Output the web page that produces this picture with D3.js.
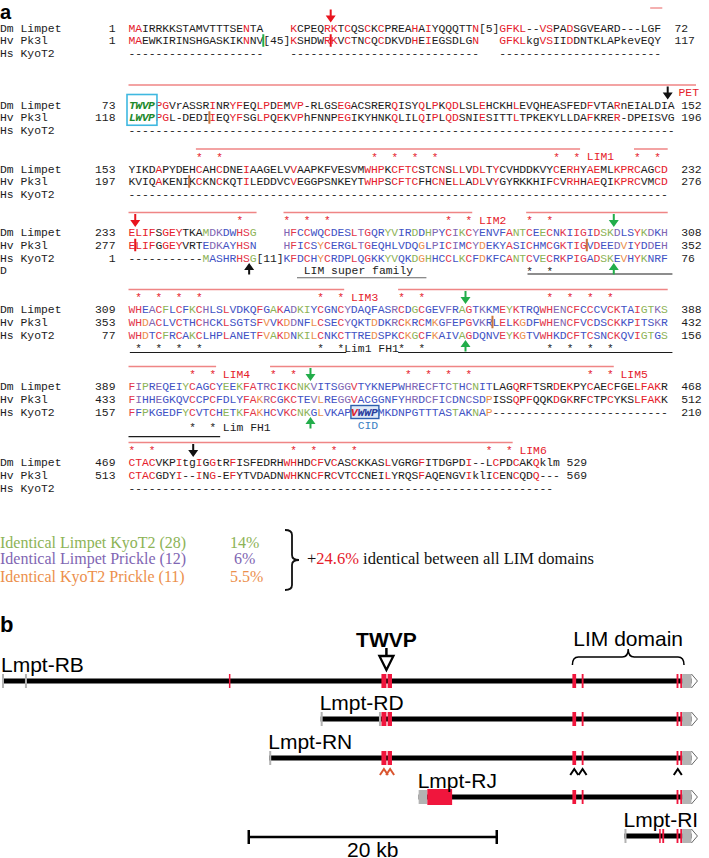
<!DOCTYPE html>
<html>
<head>
<meta charset="utf-8">
<script src="https://cdn.jsdelivr.net/npm/d3@7"></script>
<style>
  html, body { margin: 0; padding: 0; background: #fff; }
  svg { display: block; }
</style>
</head>
<body>
<script>
// Figura: (a) alineamiento Limpet / Pk3l / KyoT2, (b) transcritos Lmpt y sus exones.

const MONO = '"Liberation Mono", "Courier New", monospace';
const SANS = '"Liberation Sans", Arial, sans-serif';
const SERIF = '"Liberation Serif", "Times New Roman", serif';

// ---------- datos (a) ----------
const seqNames = ['Dm Limpet', 'Hv Pk3l', 'Hs KyoT2'];
const G10 = '----------';

const dmRows = [
  'MAIRRKKSTAMVTTTSENTA    KCPEQRKTCQSCKCPREAHAIYQQQTTN[5]GFKL--VSPADSGVEARD---LGF',
  'TWVPPGVrASSRINRYFEQLPDEMVP-RLGSEGACSRERQISYQLPKQDLSLEHCKHLEVQHEASFEDFVTARnEIALDIA',
  'YIKDAPYDEHCAHCDNEIAAGELVVAAPKFVESVMWHPKCFTCSTCNSLLVDLTYCVHDDKVYCERHYAEMLKPRCAGCD',
  'ELIFSGEYTKAMDKDWHSG    HFCCWQCDESLTGQRYVIRDDHPYCIKCYENVFANTCEECNKIIGIDSKDLSYKDKH',
  'WHEACFLCFKCHLSLVDKQFGAKADKIYCGNCYDAQFASRCDGCGEVFRAGTKKMEYKTRQWHENCFCCCVCKTAIGTKS',
  'FIPREQEIYCAGCYEEKFATRCIKCNKVITSGGVTYKNEPWHRECFTCTHCNITLAGQRFTSRDEKPYCAECFGELFAKR',
  'CTACVKPItgIGGtRFISFEDRHWHHDCFVCASCKKASLVGRGFITDGPDI--LCPDCAKQklm'
];
const hvRows = [
  'MAEWKIRINSHGASKIKNNV[45]KSHDWRKVCTNCQCDKVDHEIEGSDLGN   GFKLkgVSIIDDNTKLAPkevEQY',
  'LWVPPGL-DEDIIEQYFSGLPQEKVPhFNNPEGIKYHNKQLILQIPLQDSNIESITTLTPKEKYLLDAFKRER-DPEISVG',
  'KVIQAKENIKCKNCKQTILEDDVCVEGGPSNKEYTWHPSCFTCFHCNELLADLVYGYRKKHIFCVRHHAEQIKPRCVMCD',
  'ELIFGGEYVRTEDKAYHSN    HFICSYCERGLTGEQHLVDQGLPICIMCYDEKYASICHMCGKTIGVDEEDVIYDDEH',
  'WHDACLVCTHCHCKLSGTSFVVKDDNFLCSECYQKTDDKRCKRCMKGFEPGVKRLELKGDFWHENCFVCDSCKKPITSKR',
  'FIHHEGKQVCCPCFDLYFAKRCGKCTEVLREGGVACGGNFYHRDCFICDNCSDPISSQPFQQKDGKRFCTPCYKSLFAKK',
  'CTACGDYI--ING-EFYTVDADNWHKNCFRCVTCCNEILYRQSFAQENGVIklICENCQDQ---'
];
const hsRows = [
  G10 + G10 + '    ' + G10 + G10 + '--------' + '   ' + G10 + G10 + '----',
  G10 + G10 + G10 + G10 + G10 + G10 + G10 + G10 + '-',
  G10 + G10 + G10 + G10 + G10 + G10 + G10 + G10,
  '-----------MASHRHSG[11]KFDCHYCRDPLQGKKYVQKDGHHCCLKCFDKFCANTCVECRKPIGADSKEVHYKNRF',
  'WHDTCFRCAKCLHPLANETFVAKDNKILCNKCTTREDSPKCKGCFKAIVAGDQNVEYKGTVWHKDCFTCSNCKQVIGTGS',
  'FFPKGEDFYCVTCHETKFAKHCVKCNKGLVKAPVWWPMKDNPGTTTASTAKNAP' + G10 + G10 + '------',
  G10 + G10 + G10 + G10 + G10 + G10 + '---'
];
const dmStart = [1, 73, 153, 233, 309, 389, 469];
const dmEnd   = [72, 152, 232, 308, 388, 468, 529];
const hvStart = [1, 118, 197, 277, 353, 433, 513];
const hvEnd   = [117, 196, 276, 352, 432, 512, 569];
const hsStart = [null, null, null, 1, 77, 157, null];
const hsEnd   = [null, null, null, 76, 156, 210, null];

// lineas de dominio (rojo) [bloque, col inicio, col fin]
const domainLines = [
  [0, 77.4, 79.2], [1, 0, 84.2],
  [2, 10, 67], [2, 75, 80],
  [3, 0, 19], [3, 23, 51], [3, 59, 80],
  [4, 0, 32], [4, 40, 80],
  [5, 0, 13], [5, 21, 72],
  [6, 0, 57]
];
// cisteinas/histidinas conservadas (estrellas rojas)
const limStars = [
  [], [],
  [10, 13, 36, 39, 42, 45, 63, 66, 75, 78],
  [16, 23, 26, 29, 47, 50, 59, 62],
  [1, 4, 7, 10, 28, 31, 40, 43, 62, 65, 68, 71],
  [9, 12, 21, 24, 41, 44, 47, 50, 68, 71],
  [0, 3, 24, 27, 30, 33, 53, 56]
];
const limLabels = [[2, 68, 'LIM1'], [3, 52, 'LIM2'], [4, 33, 'LIM3'], [5, 14, 'LIM4'], [5, 73, 'LIM5'], [6, 58, 'LIM6'], [1, 81.6, 'PET']];

// anotacion KyoT2 (negro)
const kyoStars = [[3, [59, 62]], [4, [1, 4, 7, 10, 28, 31, 40, 43, 62, 65, 68, 71]], [5, [9, 12]]];
const kyoLines = [[3, 59.2, 80.7], [4, 0.2, 32.3], [4, 40, 80.7], [5, 0, 13.6]];
const kyoTexts = [[4, 32, 'Lim1 FH1'], [5, 14, 'Lim FH1']];

// intrones: flechas y barras [bloque, col, color]
const downArrows = [[0, 30, 'red'], [3, 1, 'red'], [3, 72, 'green'], [4, 50, 'green'], [5, 27, 'green'], [1, 80, 'black'], [6, 9.6, 'black']];
const upArrows = [[3, 72, 'green'], [4, 50, 'green'], [5, 27, 'green'], [3, 17.9, 'black']];
const hvBars = [[0, 20, 'green'], [0, 30, 'red'], [1, 12, 'orange'], [2, 9, 'orange'], [3, 1, 'red'], [3, 68, 'orange'], [4, 54, 'orange']];

// leyenda
const legendLabels = ['Identical Limpet KyoT2 (28)', 'Identical Limpet Prickle (12)', 'Identical KyoT2 Prickle (11)'];
const legendPct = ['14%', '6%', '5.5%'];
const legendTotal = '24.6%';

// ---------- datos (b) ----------  posiciones en kb
const geneNames = ['Lmpt-RB', 'Lmpt-RD', 'Lmpt-RN', 'Lmpt-RJ', 'Lmpt-RI'];
const geneStart = [0, 25.7, 21.55, 33.6, 50.2];
const geneEnd = 55.6;
const grayExons = [
  [[0, 0.12], [1.85, 2.0]],
  [[25.7, 25.8], [30.4, 30.5]],
  [[21.55, 21.65]],
  [[33.6, 34.3]],
  [[50.2, 50.3]]
];
const limExons = [[46.0, 46.3], [46.75, 46.9], [54.4, 54.55], [54.7, 54.85]];
const twvpExons = [[30.6, 31.0], [31.1, 31.45]];
const redExons = [
  [[18.3, 18.4]].concat(twvpExons, limExons),
  twvpExons.concat(limExons),
  twvpExons.concat(limExons),
  [[34.3, 36.3]].concat(limExons),
  [[53.0, 53.12], [53.25, 53.4], [54.4, 54.55], [54.7, 54.85]]
];
const utrEnd = [54.85, 55.6];
const rnRedChevrons = [30.8, 31.3];
const rnBlackChevrons = [46.15, 46.82, 54.5];
const twvpKb = 31.0;
const limBraceKb = [46.0, 55.0];
const scaleBarKb = [19.9, 39.9];

// ---------- dibujo ----------
const RED = '#e5202b', RED_LIM = '#e3364a', BLUE = '#4152c4', GREEN = '#8db356',
      PURPLE = '#7f66b3', ORANGE = '#ec8f4c', INK = '#1c1c1c', LINE_RED = '#ef8585',
      ARROW_GREEN = '#22ad4a';
const colorOf = { red: '#e8141e', green: ARROW_GREEN, black: '#111', orange: '#c9763c' };

const svg = d3.select('body').append('svg').attr('width', 709).attr('height', 858);

const cw = 6.74, x0 = 128.5;
const col = d3.scaleLinear().domain([0, 1]).range([x0, x0 + cw]);
const blockY = [31.5, 108.5, 172.5, 236, 313, 390, 466]; // baseline fila Dm
const rowGap = 12.75;

svg.append('text').attr('x', 0).attr('y', 18.5).attr('font-family', SANS)
  .attr('font-weight', 700).attr('font-size', 20).attr('fill', '#000').text('a');

const isRes = ch => /[A-Za-z]/.test(ch);

function colourBlock(b) {
  const rows = [dmRows[b], hvRows[b], hsRows[b]];
  const n = d3.max(rows, r => r.length);
  const out = rows.map(() => []);
  for (let i = 0; i < n; i++) {
    const [a, h, k] = rows.map(r => r[i] || ' ');
    let c = [INK, INK, INK];
    if (isRes(a) && isRes(h) && isRes(k)) {
      c = [BLUE, BLUE, BLUE];
      if (a === h && h === k) c = [RED_LIM, RED_LIM, RED_LIM];
      else if (a === k) c = [GREEN, BLUE, GREEN];
      else if (a === h) c = [PURPLE, PURPLE, BLUE];
      else if (h === k) c = [BLUE, ORANGE, ORANGE];
    } else if (isRes(a) && isRes(h) && a === h && a === a.toUpperCase()) {
      c = [RED, RED, INK];
    }
    rows.forEach((r, j) => out[j].push(c[j]));
  }
  return out;
}

const endCol = [81, 82, 82, 82, 82, 82, 65];

dmRows.forEach((_, b) => {
  const g = svg.append('g');
  const cols = colourBlock(b);
  const rows = [dmRows[b], hvRows[b], hsRows[b]];
  const starts = [dmStart[b], hvStart[b], hsStart[b]];
  const ends = [dmEnd[b], hvEnd[b], hsEnd[b]];

  rows.forEach((seq, r) => {
    const y = blockY[b] + r * rowGap;
    g.append('text').attr('x', 0).attr('y', y).attr('font-family', MONO)
      .attr('font-size', 11.4).attr('fill', INK).attr('xml:space', 'preserve').text(seqNames[r]);
    if (starts[r] != null) {
      g.append('text').attr('x', 115.5).attr('y', y).attr('text-anchor', 'end')
        .attr('font-family', MONO).attr('font-size', 11.4).attr('fill', INK).text(starts[r]);
      g.append('text').attr('x', col(endCol[b])).attr('y', y)
        .attr('font-family', MONO).attr('font-size', 11.4).attr('fill', INK).text(ends[r]);
    }
    const chars = seq.split('').map((ch, i) => ({ ch, i, c: cols[r][i] }))
      .filter(d => d.ch !== ' ');
    g.selectAll(null).data(chars).join('text')
      .attr('x', d => col(d.i + 0.5)).attr('y', y)
      .attr('text-anchor', 'middle').attr('font-family', MONO).attr('font-size', 11.4)
      .attr('fill', d => d.c).text(d => d.ch);
  });
});

// fila "D" con "LIM super family"
svg.append('text').attr('x', 0).attr('y', blockY[3] + 3 * rowGap).attr('font-family', MONO)
  .attr('font-size', 11.4).attr('fill', INK).text('D');
svg.append('text').attr('x', col(26)).attr('y', blockY[3] + 3 * rowGap).attr('font-family', MONO)
  .attr('font-size', 11.4).attr('fill', INK).text('LIM super family');
svg.append('line').attr('x1', col(25)).attr('x2', col(44.2))
  .attr('y1', blockY[3] + 3 * rowGap + 3.5).attr('y2', blockY[3] + 3 * rowGap + 3.5)
  .attr('stroke', '#666').attr('stroke-width', 1.2);

// lineas de dominio, estrellas y etiquetas LIM
svg.selectAll('.dline').data(domainLines).join('line').attr('class', 'dline')
  .attr('x1', d => col(d[1])).attr('x2', d => col(d[2]))
  .attr('y1', d => blockY[d[0]] - 23.5).attr('y2', d => blockY[d[0]] - 23.5)
  .attr('stroke', LINE_RED).attr('stroke-width', 1.3);

limStars.forEach((cs, b) => {
  svg.selectAll(null).data(cs).join('text')
    .attr('x', c => col(c + 0.5)).attr('y', blockY[b] - 12)
    .attr('text-anchor', 'middle').attr('font-family', MONO).attr('font-size', 11)
    .attr('fill', RED).text('*');
});
svg.selectAll('.limlab').data(limLabels).join('text').attr('class', 'limlab')
  .attr('x', d => col(d[1])).attr('y', d => blockY[d[0]] - 12.5)
  .attr('font-family', MONO).attr('font-size', 11.4).attr('fill', RED).text(d => d[2]);

// anotacion KyoT2
const kyoY = { 3: [38.5, 38], 4: [38.5, 39.5], 5: [41, 46.7] };
kyoStars.forEach(([b, cs]) => {
  svg.selectAll(null).data(cs).join('text')
    .attr('x', c => col(c + 0.5)).attr('y', blockY[b] + kyoY[b][0])
    .attr('text-anchor', 'middle').attr('font-family', MONO).attr('font-size', 11)
    .attr('fill', INK).text('*');
});
svg.selectAll('.kline').data(kyoLines).join('line').attr('class', 'kline')
  .attr('x1', d => col(d[1])).attr('x2', d => col(d[2]))
  .attr('y1', d => blockY[d[0]] + kyoY[d[0]][1]).attr('y2', d => blockY[d[0]] + kyoY[d[0]][1])
  .attr('stroke', INK).attr('stroke-width', 1.2);
svg.selectAll('.ktext').data(kyoTexts).join('text').attr('class', 'ktext')
  .attr('x', d => col(d[1])).attr('y', d => blockY[d[0]] + kyoY[d[0]][0])
  .attr('font-family', MONO).attr('font-size', 11.4).attr('fill', INK).attr('xml:space', 'preserve')
  .text(d => d[2]);

// flechas de intron
function arrowPath(x, yBase, yTip) {
  const dir = yTip > yBase ? 1 : -1;
  const head = 7, hw = 5, yNeck = yTip - dir * head;
  return `M${x - 1},${yBase}L${x + 1},${yBase}L${x + 1},${yNeck}L${x + hw},${yNeck}` +
         `L${x},${yTip}L${x - hw},${yNeck}L${x - 1},${yNeck}Z`;
}
svg.selectAll('.darr').data(downArrows).join('path').attr('class', 'darr')
  .attr('d', d => arrowPath(col(d[1]), blockY[d[0]] - 22, blockY[d[0]] - 9))
  .attr('fill', d => colorOf[d[2]]);
svg.selectAll('.uarr').data(upArrows).join('path').attr('class', 'uarr')
  .attr('d', d => arrowPath(col(d[1]), blockY[d[0]] + 2 * rowGap + 13, blockY[d[0]] + 2 * rowGap + 1.5))
  .attr('fill', d => colorOf[d[2]]);
svg.selectAll('.hvbar').data(hvBars).join('rect').attr('class', 'hvbar')
  .attr('x', d => col(d[1]) - 1).attr('width', 2)
  .attr('y', d => blockY[d[0]] + rowGap - 10).attr('height', 12.5)
  .attr('fill', d => colorOf[d[2]]);

// TWVP (recuadro cian) y VWWP (CID)
svg.append('rect').attr('x', col(0) - 1.5).attr('y', blockY[1] - 14).attr('width', 4 * cw + 3)
  .attr('height', rowGap + 18).attr('fill', 'none').attr('stroke', '#3fb8e0').attr('stroke-width', 1.6);
[[dmRows[1], 0], [hvRows[1], 1]].forEach(([s, r]) => {
  svg.append('text').attr('x', col(2)).attr('y', blockY[1] + r * rowGap).attr('text-anchor', 'middle')
    .attr('font-family', MONO).attr('font-size', 11.4).attr('font-weight', 700).attr('font-style', 'italic')
    .attr('fill', '#1d8a2c').attr('textLength', 4 * cw - 1).text(s.slice(0, 4));
});
// tapar letras normales bajo TWVP/LWVP
svg.selectAll('text').filter(function () {
  const x = +this.getAttribute('x'), y = +this.getAttribute('y');
  return this.getAttribute('text-anchor') === 'middle' && !this.getAttribute('font-weight') &&
    x < col(4) && x > col(0) && (y === blockY[1] || y === blockY[1] + rowGap);
}).remove();

const vy = blockY[5] + 2 * rowGap;
svg.append('rect').attr('x', col(33)).attr('y', vy - 10).attr('width', 4 * cw + 1)
  .attr('height', 13).attr('fill', '#dfe9f6').attr('stroke', '#2d5fae').attr('stroke-width', 1.4);
svg.selectAll('text').filter(function () {
  const x = +this.getAttribute('x'), y = +this.getAttribute('y');
  return this.getAttribute('text-anchor') === 'middle' && x > col(33) && x < col(37) && y === vy;
}).remove();
['V', 'W', 'W', 'P'].forEach((ch, i) => {
  svg.append('text').attr('x', col(33 + i + 0.5)).attr('y', vy).attr('text-anchor', 'middle')
    .attr('font-family', MONO).attr('font-size', 11.4).attr('font-weight', 700).attr('font-style', 'italic')
    .attr('fill', i === 0 ? '#e0202a' : '#2b3f9e').text(ch);
});
svg.append('text').attr('x', col(34)).attr('y', blockY[5] + 39).attr('font-family', MONO)
  .attr('font-size', 11.4).attr('fill', '#3a7fc4').text('CID');

// ---------- leyenda ----------
const legendColors = [GREEN, PURPLE, ORANGE];
const legY = [547.5, 564, 581.5];
legendLabels.forEach((t, i) => {
  svg.append('text').attr('x', 0).attr('y', legY[i]).attr('font-family', SERIF)
    .attr('font-size', 16).attr('fill', legendColors[i]).text(t);
  svg.append('text').attr('x', i === 1 ? 234 : 230).attr('y', legY[i]).attr('font-family', SERIF)
    .attr('font-size', 16).attr('fill', legendColors[i]).text(legendPct[i]);
});
function vBrace(x, y0, y1, w) {
  const ym = (y0 + y1) / 2, xm = x + w / 2, r = 5;
  return `M${x},${y0}Q${xm},${y0} ${xm},${y0 + r}L${xm},${ym - r}Q${xm},${ym} ${x + w},${ym}` +
         `Q${xm},${ym} ${xm},${ym + r}L${xm},${y1 - r}Q${xm},${y1} ${x},${y1}`;
}
svg.append('path').attr('d', vBrace(285, 530, 590, 14)).attr('fill', 'none')
  .attr('stroke', '#111').attr('stroke-width', 1.8);
const tot = svg.append('text').attr('x', 307).attr('y', legY[1]).attr('font-family', SERIF)
  .attr('font-size', 16.5).attr('fill', '#111');
tot.append('tspan').text('+');
tot.append('tspan').attr('fill', RED).text(legendTotal);
tot.append('tspan').text(' identical between all LIM domains');

// ---------- (b) transcritos ----------
svg.append('text').attr('x', 0).attr('y', 632).attr('font-family', SANS)
  .attr('font-weight', 700).attr('font-size', 22).attr('fill', '#000').text('b');

const kb = d3.scaleLinear().domain([0, 56]).range([2, 2 + 56 * 12.4]);
const geneY = [681, 719, 758, 797, 836];
const gb = svg.append('g');

geneNames.forEach((name, i) => {
  const y = geneY[i];
  gb.append('line').attr('x1', kb(geneStart[i])).attr('x2', kb(geneEnd))
    .attr('y1', y).attr('y2', y).attr('stroke', '#000').attr('stroke-width', 5);
  gb.selectAll(null).data(grayExons[i]).join('rect')
    .attr('x', d => kb(d[0])).attr('width', d => Math.max(2, kb(d[1]) - kb(d[0])))
    .attr('y', y - 7).attr('height', 14).attr('fill', '#b3b3b3');
  gb.selectAll(null).data(redExons[i]).join('rect')
    .attr('x', d => kb(d[0])).attr('width', d => Math.max(1.5, kb(d[1]) - kb(d[0])))
    .attr('y', d => (d[1] - d[0] > 1 ? y - 8 : y - 7)).attr('height', d => (d[1] - d[0] > 1 ? 16 : 14))
    .attr('fill', '#f0163d');
  // UTR final gris + punta
  gb.append('rect').attr('x', kb(utrEnd[0])).attr('width', kb(utrEnd[1]) - kb(utrEnd[0]))
    .attr('y', y - 7).attr('height', 14).attr('fill', '#b3b3b3');
  gb.append('path')
    .attr('d', `M${kb(utrEnd[1])},${y - 7}L${kb(utrEnd[1]) + 6},${y}L${kb(utrEnd[1])},${y + 7}`)
    .attr('fill', 'none').attr('stroke', '#555').attr('stroke-width', 0.9);
  gb.append('text').attr('x', kb(geneStart[i]) - 1).attr('y', y - 9).attr('font-family', SANS)
    .attr('font-size', 21).attr('fill', '#000').text(name);
});

// TWVP flecha abierta
const tx = kb(twvpKb);
gb.append('text').attr('x', tx).attr('y', 647).attr('text-anchor', 'middle').attr('font-family', SANS)
  .attr('font-weight', 700).attr('font-size', 21).attr('fill', '#000').text('TWVP');
gb.append('line').attr('x1', tx).attr('x2', tx).attr('y1', 648).attr('y2', 656)
  .attr('stroke', '#000').attr('stroke-width', 2.5);
gb.append('path').attr('d', `M${tx - 7},656L${tx + 7},656L${tx},670Z`)
  .attr('fill', '#fff').attr('stroke', '#000').attr('stroke-width', 2.3).attr('stroke-linejoin', 'miter');

// llave LIM domain
const bx0 = kb(limBraceKb[0]), bx1 = kb(limBraceKb[1]), bxm = (bx0 + bx1) / 2;
gb.append('path')
  .attr('d', `M${bx0},665Q${bx0},657 ${bx0 + 6},657L${bxm - 6},657Q${bxm},657 ${bxm},649` +
             `Q${bxm},657 ${bxm + 6},657L${bx1 - 6},657Q${bx1},657 ${bx1},665`)
  .attr('fill', 'none').attr('stroke', '#000').attr('stroke-width', 1.5);
gb.append('text').attr('x', bxm).attr('y', 646).attr('text-anchor', 'middle').attr('font-family', SANS)
  .attr('font-size', 21).attr('fill', '#000').text('LIM domain');

// chevrons bajo Lmpt-RN
function chevron(x, y, color) {
  return gb.append('path').attr('d', `M${x - 4},${y + 6}L${x},${y}L${x + 4},${y + 6}`)
    .attr('fill', 'none').attr('stroke', color).attr('stroke-width', 2);
}
rnRedChevrons.forEach(k => chevron(kb(k), geneY[2] + 11, '#d9552f'));
rnBlackChevrons.forEach(k => chevron(kb(k), geneY[2] + 11, '#000'));

// barra de escala
const sy = 837;
gb.append('line').attr('x1', kb(scaleBarKb[0])).attr('x2', kb(scaleBarKb[1])).attr('y1', sy).attr('y2', sy)
  .attr('stroke', '#000').attr('stroke-width', 2.5);
scaleBarKb.forEach(k => gb.append('line').attr('x1', kb(k)).attr('x2', kb(k))
  .attr('y1', sy - 7).attr('y2', sy + 7).attr('stroke', '#000').attr('stroke-width', 2.5));
gb.append('text').attr('x', kb((scaleBarKb[0] + scaleBarKb[1]) / 2)).attr('y', 857)
  .attr('text-anchor', 'middle').attr('font-family', SANS).attr('font-size', 21).attr('fill', '#000')
  .text((scaleBarKb[1] - scaleBarKb[0]).toFixed(0) + ' kb');
</script>
</body>
</html>
